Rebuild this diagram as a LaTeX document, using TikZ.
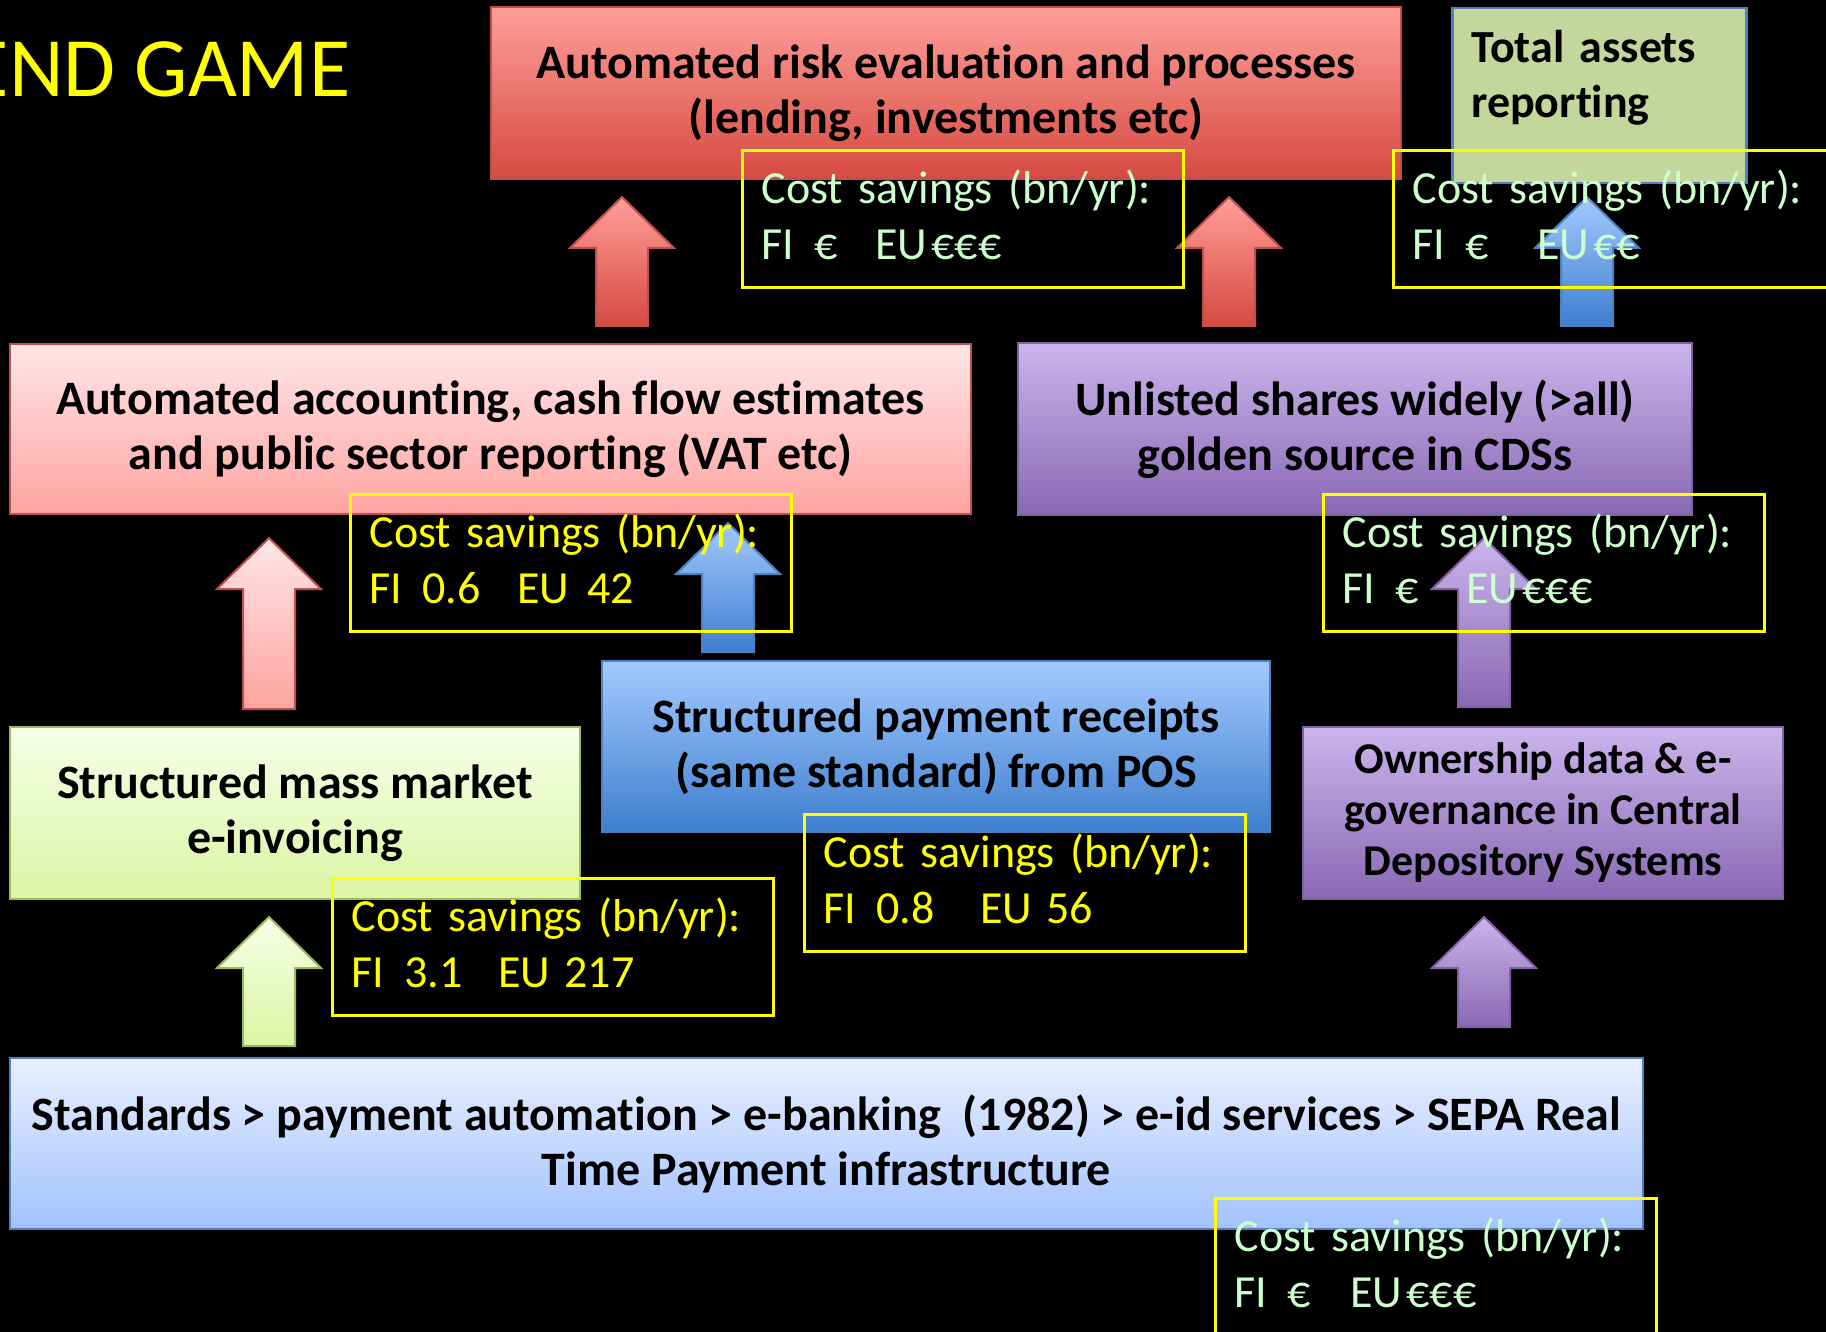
\documentclass[tikz,border=0pt]{standalone}
\usepackage{fontspec}
\setmainfont{Carlito}[Ligatures=NoCommon]
\definecolor{redtop}{HTML}{FF9E9A}
\definecolor{redbot}{HTML}{D64A40}
\definecolor{redline}{HTML}{C0504D}
\definecolor{pinktop}{HTML}{FFE6E6}
\definecolor{pinkbot}{HTML}{FFA4A1}
\definecolor{assetfill}{HTML}{C3D69B}
\definecolor{blueline}{HTML}{4F81BD}
\definecolor{bluetop}{HTML}{A3C9FF}
\definecolor{bluebot}{HTML}{3E7FCF}
\definecolor{paletop}{HTML}{E8EFFF}
\definecolor{palebot}{HTML}{A2C2FF}
\definecolor{purtop}{HTML}{CBB4EC}
\definecolor{purbot}{HTML}{8A69B4}
\definecolor{purline}{HTML}{8064A2}
\definecolor{limetop}{HTML}{F6FFE8}
\definecolor{limebot}{HTML}{DBF5A3}
\definecolor{limeline}{HTML}{9BBB59}
\definecolor{costyellow}{HTML}{FFFF00}
\definecolor{costgreen}{HTML}{CCFFCC}

\newcommand\boxfont{\bfseries\fontsize{48}{55}\selectfont}
\newcommand\smallboxfont{\bfseries\fontsize{44}{51}\selectfont}
\newcommand\costfont{\fontsize{46}{56}\selectfont}
% block arrow pointing up: style, x, tip y, bottom y
\newcommand\blockup[4]{%
  \draw[#1] (#2,#3) -- ++(52,51) -- ++(-26,0) -- (#2+26,#4) -- (#2-26,#4)
    -- (#2-26,#3+51) -- ++(-26,0) -- cycle;}

\tikzset{
  box/.style={draw, line width=2.5pt, inner sep=0pt, align=center, font=\boxfont},
  redbox/.style={box, draw=redline, top color=redtop, bottom color=redbot},
  pinkbox/.style={box, draw=redline, top color=pinktop, bottom color=pinkbot},
  assetbox/.style={draw=blueline, fill=assetfill, line width=2.5pt, inner ysep=0pt,
    inner xsep=19pt, align=left, font=\bfseries\fontsize{46}{55}\selectfont},
  purbox/.style={box, draw=purline, top color=purtop, bottom color=purbot},
  limebox/.style={box, draw=limeline, top color=limetop, bottom color=limebot},
  bluebox/.style={box, draw=blueline, top color=bluetop, bottom color=bluebot},
  palebox/.style={box, draw=blueline, top color=paletop, bottom color=palebot},
  redarrow/.style={draw=redline, line width=2pt, top color=redtop, bottom color=redbot},
  pinkarrow/.style={draw=redline, line width=2pt, top color=pinktop, bottom color=pinkbot},
  bluearrow/.style={draw=blueline, line width=2pt, top color=bluetop, bottom color=bluebot},
  purarrow/.style={draw=purline, line width=2pt, top color=purtop, bottom color=purbot},
  limearrow/.style={draw=limeline, line width=2pt, top color=limetop, bottom color=limebot},
  costbox/.style={draw=costyellow, line width=3pt, anchor=north west,
    minimum width=441, minimum height=137, inner xsep=19pt, inner ysep=0pt,
    text width=403, align=left, font=\costfont,
    execute at end node={\rule[-8pt]{0pt}{8pt}}},
}

\begin{document}
\begin{tikzpicture}[x=1pt,y=-1pt]
\fill[black] (0,0) rectangle (1826,1332);
\useasboundingbox (0,0) rectangle (1826,1332);

\node[anchor=base east, text=costyellow, font=\fontsize{84.5}{95}\selectfont] (title) at (354,97) {END GAME};

% top row
\node[redbox, minimum width=910, minimum height=172] (risk) at (946,93)
  {Automated risk evaluation and processes\\(lending, investments etc)};
\node[assetbox, anchor=north west, minimum width=294, minimum height=175,
  text width=256] (assets) at (1451,7)
  {Total assets\\reporting\rule[-43pt]{0pt}{43pt}};

% middle row
\node[pinkbox, minimum width=961, minimum height=170] (accounting) at (490.5,429)
  {Automated accounting, cash flow estimates\\and public sector reporting (VAT etc)};
\node[purbox, minimum width=674, minimum height=172] (unlisted) at (1355,429)
  {Unlisted shares widely (>all)\\golden source in CDSs};

% lower row
\node[limebox, minimum width=570, minimum height=172] (invoicing) at (295,813)
  {Structured mass market\\e-invoicing};
\node[bluebox, minimum width=668, minimum height=171] (receipts) at (936,746.5)
  {Structured payment receipts\\(same standard) from POS};
\node[purbox, font=\smallboxfont, minimum width=480, minimum height=172] (ownership) at (1543,813)
  {Ownership data \& e-\\governance in Central\\Depository Systems};

% base
\node[palebox, minimum width=1633, minimum height=171] (base) at (826.5,1143.5)
  {Standards > payment automation > e-banking~~(1982) > e-id services > SEPA Real\\Time Payment infrastructure};

% arrows
\blockup{redarrow}{622}{197}{326}
\blockup{redarrow}{1229}{197}{326}
\blockup{bluearrow}{1587}{197}{326}
\blockup{pinkarrow}{269}{538}{709}
\blockup{bluearrow}{728}{523}{652}
\blockup{purarrow}{1484}{538}{707}
\blockup{limearrow}{269}{917}{1046}
\blockup{purarrow}{1484}{917}{1027}

% cost savings
\node[costbox, text=costgreen] (riskcost) at (741,149)
  {Cost savings (bn/yr):\\FI\hspace{20pt}€\hspace{38pt}EU\hspace{4pt}€€€};
\node[costbox, text=costgreen] (assetscost) at (1392,149)
  {Cost savings (bn/yr):\\FI\hspace{20pt}€\hspace{49pt}EU\hspace{4pt}€€};
\node[costbox, text=costyellow] (accountingcost) at (349,493)
  {Cost savings (bn/yr):\\FI\hspace{20pt}0.6\hspace{37pt}EU\hspace{18pt}42};
\node[costbox, text=costgreen] (unlistedcost) at (1322,493)
  {Cost savings (bn/yr):\\FI\hspace{20pt}€\hspace{48pt}EU\hspace{4pt}€€€};
\node[costbox, text=costyellow] (invoicingcost) at (331,877)
  {Cost savings (bn/yr):\\FI\hspace{20pt}3.1\hspace{36pt}EU\hspace{14pt}217};
\node[costbox, text=costyellow] (receiptscost) at (803,813)
  {Cost savings (bn/yr):\\FI\hspace{20pt}0.8\hspace{46pt}EU\hspace{14pt}56};
\node[costbox, text=costgreen] (basecost) at (1214,1197)
  {Cost savings (bn/yr):\\FI\hspace{20pt}€\hspace{40pt}EU\hspace{4pt}€€€};
\end{tikzpicture}
\end{document}
